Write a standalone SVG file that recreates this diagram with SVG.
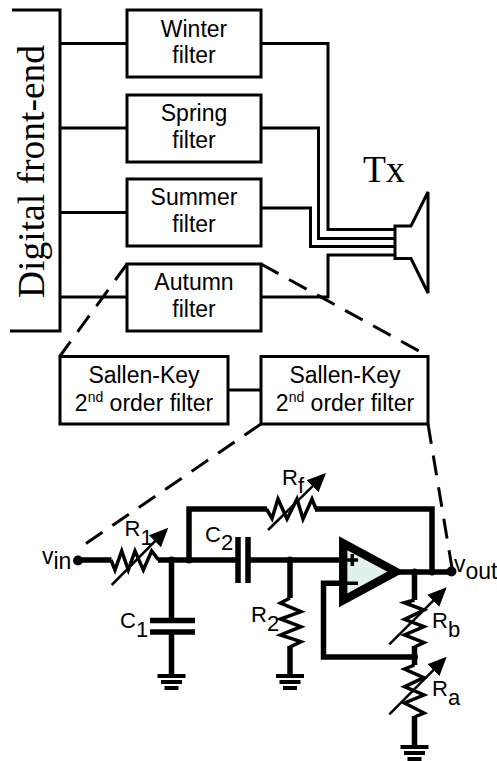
<svg xmlns="http://www.w3.org/2000/svg" width="497" height="761" viewBox="0 0 497 761">
<style>
.b{fill:#fff;stroke:#000;stroke-width:3}
.w{fill:none;stroke:#000;stroke-width:3;stroke-linejoin:miter}
.d{fill:none;stroke:#000;stroke-width:3;stroke-dasharray:20 12}
.c{fill:none;stroke:#000;stroke-width:5.500;stroke-linejoin:miter}
.z{fill:none;stroke:#000;stroke-width:3.500;stroke-linejoin:miter}
.g{fill:none;stroke:#000;stroke-width:4}
.a{fill:none;stroke:#000;stroke-width:2.500}
.h{fill:#000;stroke:none}
text{font-family:"Liberation Sans",Arial,sans-serif;font-size:23px;fill:#000}
.m{text-anchor:middle}
.s{font-family:"Liberation Serif","Times New Roman",serif;font-size:37.500px}
.t{font-size:22px}
</style>
<defs>
<g id="gnd"><path class="g" d="M-14 0H14M-10.500 6H10.500M-7 12H7"/></g>
<marker id="arr" markerUnits="userSpaceOnUse" markerWidth="22" markerHeight="22" refX="16" refY="11" orient="auto"><path class="h" d="M0 2.500L19 11L0 19.500Z"/></marker>
</defs>
<g id="connectors">
<path class="w" d="M60 43.500H127M60 128H127M60 212.500H127M60 297H127"/>
<path class="w" d="M261 43.500H328V229.500H395M261 128H318.500V238.500H395M261 208H310.500V246.500H395M261 297H328V255H395"/>
<path class="w" d="M228 390H261"/>
<path class="d" d="M127 264L60 356M261 264L428 356M261 424L78 549M428 424L452 568"/>
</g>
<g id="digital-front-end"><path class="w" d="M12 10H60V331H10"/><text class="s" transform="translate(43.500 298) rotate(-90)">Digital front-end</text></g>
<g id="winter"><rect class="b" x="127" y="10" width="134" height="67"/><text class="m" x="194" y="36.500">Winter</text><text class="m" x="194" y="63">filter</text></g>
<g id="spring"><rect class="b" x="127" y="95" width="134" height="67"/><text class="m" x="194" y="121">Spring</text><text class="m" x="194" y="148">filter</text></g>
<g id="summer"><rect class="b" x="127" y="179" width="134" height="67"/><text class="m" x="194" y="205">Summer</text><text class="m" x="194" y="232">filter</text></g>
<g id="autumn"><rect class="b" x="127" y="264" width="134" height="67"/><text class="m" x="194" y="290">Autumn</text><text class="m" x="194" y="317">filter</text></g>
<g id="speaker"><path class="w" d="M395 226H411L428 192V293L411 258.500H395Z"/><text class="s" x="363" y="182">Tx</text></g>
<g id="sallen-key-1"><rect class="b" x="60" y="356.500" width="168" height="67.500"/><text class="m" x="144" y="383">Sallen-Key</text><text class="m" x="144" y="411">2<tspan font-size="14" dy="-9">nd</tspan><tspan dy="9"> order filter</tspan></text></g>
<g id="sallen-key-2"><rect class="b" x="261" y="356.500" width="167" height="67.500"/><text class="m" x="345" y="383">Sallen-Key</text><text class="m" x="345" y="411">2<tspan font-size="14" dy="-9">nd</tspan><tspan dy="9"> order filter</tspan></text></g>
<g id="circuit">
<path class="c" d="M78 560H111.500M158 560H238M248 560H340"/>
<path class="z" d="M111 560L115 570L121.700 551L128.300 570L135 551L143.300 570L151.700 551L158.500 560"/>
<path class="c" d="M189 560V509H267M315 509H432V572"/>
<path class="z" d="M266.500 509L272 518.500L278 499L287 519L297 499L303 519L312 499L316 509"/>
<path class="c" d="M238 537V583M248 537V583"/>
<path class="c" d="M171.500 560V620M150 620.500H195M150 632H195M171.500 632V676"/>
<path class="c" d="M290 560V598M290 646V676"/>
<path class="z" d="M290 598L280.500 603L301 611.700L280.500 619L301 626.700L280.500 635L301 641.700L290 647"/>
<path class="c" d="M398 572H452"/>
<path class="c" d="M414.500 572V600M414.500 646V665M414.500 716V747"/>
<path class="z" d="M414.500 600L404.500 602.700L424 610L404.500 619.300L424 626.700L404.500 635L424 642.700L414.500 647"/>
<path class="z" d="M414.500 665L404.500 669L424 677.700L404.500 686.700L424 695L404.500 703L424 713L414.500 717"/>
<path class="c" d="M358 583.300H323.500V657H414.500"/>
<polygon id="opamp" points="343.200,543.300 343.200,600.300 396,571.700" fill="#e2f0f0" stroke="#000" stroke-width="8.300" stroke-miterlimit="10"/>
<path d="M347 583.300H358M347 560H358M352.300 554V566" fill="none" stroke="#000" stroke-width="3.500"/>
<circle cx="78" cy="560.500" r="5"/><circle cx="171.500" cy="560" r="3.500"/><circle cx="189" cy="560" r="3.500"/><circle cx="290" cy="560" r="3.500"/><circle cx="414.500" cy="572" r="3.500"/><circle cx="432" cy="572" r="3.500"/><circle cx="451.500" cy="571.500" r="5"/><circle cx="414.500" cy="657" r="3.500"/>
<path class="a" marker-end="url(#arr)" d="M111.700 585L166.200 529.800"/>
<path class="a" marker-end="url(#arr)" d="M268 530L323.900 475.100"/>
<path class="a" marker-end="url(#arr)" d="M389.300 644.300L444.600 589.400"/>
<path class="a" marker-end="url(#arr)" d="M389.300 714.300L444.600 658.800"/>
<use href="#gnd" x="171.500" y="676"/><use href="#gnd" x="290" y="676"/><use href="#gnd" x="414.500" y="747"/>
<text class="t" x="124.500" y="535.700">R<tspan x="140.500" y="545">1</tspan></text>
<text class="t" x="205" y="542">C<tspan x="221" y="550">2</tspan></text>
<text class="t" x="120" y="628">C<tspan x="136" y="636.500">1</tspan></text>
<text class="t" x="251" y="622.300">R<tspan x="267" y="630.700">2</tspan></text>
<text class="t" x="282" y="485">R<tspan x="298" y="493">f</tspan></text>
<text class="t" x="432" y="628.300">R<tspan x="448" y="636.700">b</tspan></text>
<text class="t" x="432" y="696">R<tspan x="448" y="705">a</tspan></text>
<text x="42" y="564">v<tspan x="53.500" y="569">in</tspan></text>
<text x="454" y="572">v<tspan x="465.500" y="579">out</tspan></text>
</g>
</svg>
